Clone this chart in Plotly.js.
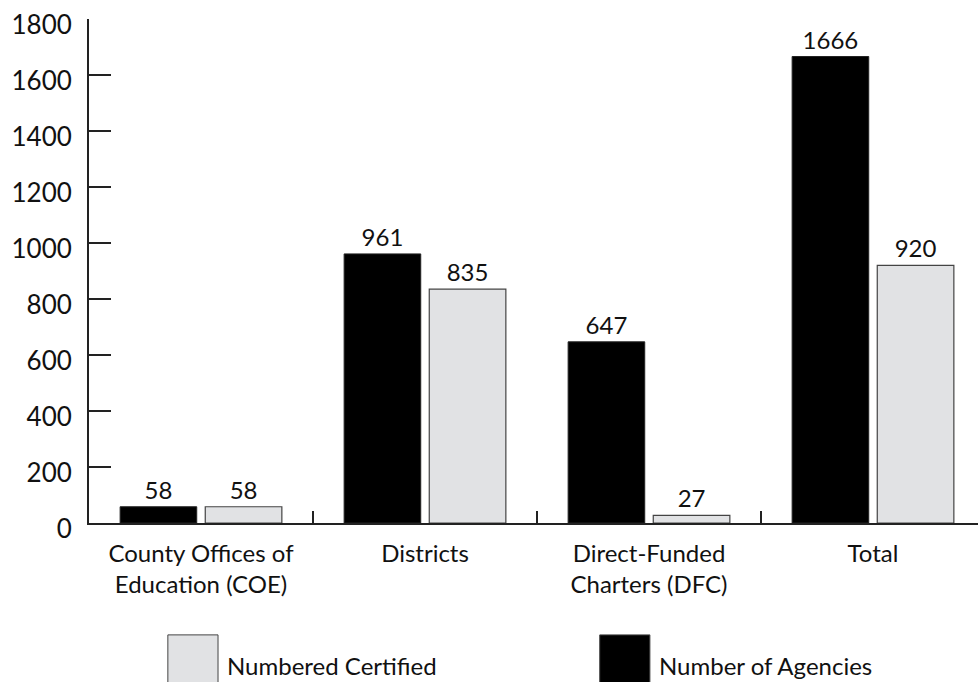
<!DOCTYPE html>
<html>
<head>
<meta charset="utf-8">
<script src="https://cdn.plot.ly/plotly-3.0.1.min.js"></script>
<style>
  html, body { margin: 0; padding: 0; overflow: hidden; background: #fff; }
  #plot { width: 985px; height: 682px; }
</style>
</head>
<body>
<div id="plot"></div>
<script>
// categories and values
var categories = ['County Offices of<br>Education (COE)', 'Districts', 'Direct-Funded<br>Charters (DFC)', 'Total'];
var agencies = [58, 961, 647, 1666];
var certified = [58, 835, 27, 920];

var FONT = 'Lato, "Open Sans", sans-serif';

var traceAgencies = {
    name: 'Number of Agencies',
    type: 'bar',
    x: categories,
    y: agencies,
    text: agencies.map(String),
    textposition: 'outside',
    textfont: { size: 24, color: '#111' },
    cliponaxis: false,
    marker: { color: '#000', line: { color: '#222', width: 1 } },
    hoverinfo: 'x+y'
};

var traceCertified = {
    name: 'Numbered Certified',
    type: 'bar',
    x: categories,
    y: certified,
    text: certified.map(String),
    textposition: 'outside',
    textfont: { size: 24, color: '#111' },
    cliponaxis: false,
    marker: { color: '#e1e2e4', line: { color: '#444', width: 1.2 } },
    hoverinfo: 'x+y'
};

// legend is drawn by hand: the reference uses big square swatches
var legendItems = [
    { label: 'Numbered Certified', color: '#e1e2e4', x0: 0.088 },
    { label: 'Number of Agencies', color: '#000', x0: 0.570 }
];

var shapes = [];
var annotations = [];
legendItems.forEach(function (it) {
    shapes.push({
        type: 'rect', xref: 'paper', yref: 'paper',
        x0: it.x0, x1: it.x0 + 0.056, y0: -0.222, y1: -0.325,
        fillcolor: it.color, line: { color: '#444', width: 1 }
    });
    annotations.push({
        xref: 'paper', yref: 'paper', x: it.x0 + 0.064, y: -0.282,
        xanchor: 'left', yanchor: 'middle', showarrow: false,
        text: it.label, font: { size: 24, color: '#111', family: FONT }
    });
});

var layout = {
    width: 985,
    height: 682,
    margin: { l: 89, r: 0, t: 19, b: 159 },
    paper_bgcolor: '#fff',
    plot_bgcolor: '#fff',
    font: { family: FONT, size: 24, color: '#111' },
    showlegend: false,
    barmode: 'group',
    bargap: 0.24,
    bargroupgap: 0.1,
    xaxis: {
        type: 'category',
        showline: true, linecolor: '#222', linewidth: 2,
        ticks: 'inside', tickson: 'boundaries', ticklen: 12, tickwidth: 2, tickcolor: '#222',
        showgrid: false, zeroline: false,
        tickfont: { size: 24, color: '#111' },
        ticklabelstandoff: 8,
        fixedrange: true
    },
    yaxis: {
        range: [0, 1800],
        dtick: 200,
        showline: true, linecolor: '#222', linewidth: 2,
        ticks: 'inside', ticklen: 22, tickwidth: 2, tickcolor: '#222',
        showgrid: false, zeroline: false,
        tickfont: { size: 26, color: '#111' },
        ticklabelstandoff: 10,
        ticklabelshift: 6,
        fixedrange: true
    },
    shapes: shapes,
    annotations: annotations
};

Plotly.newPlot('plot', [traceAgencies, traceCertified], layout, { displayModeBar: false, staticPlot: true });
</script>
</body>
</html>
